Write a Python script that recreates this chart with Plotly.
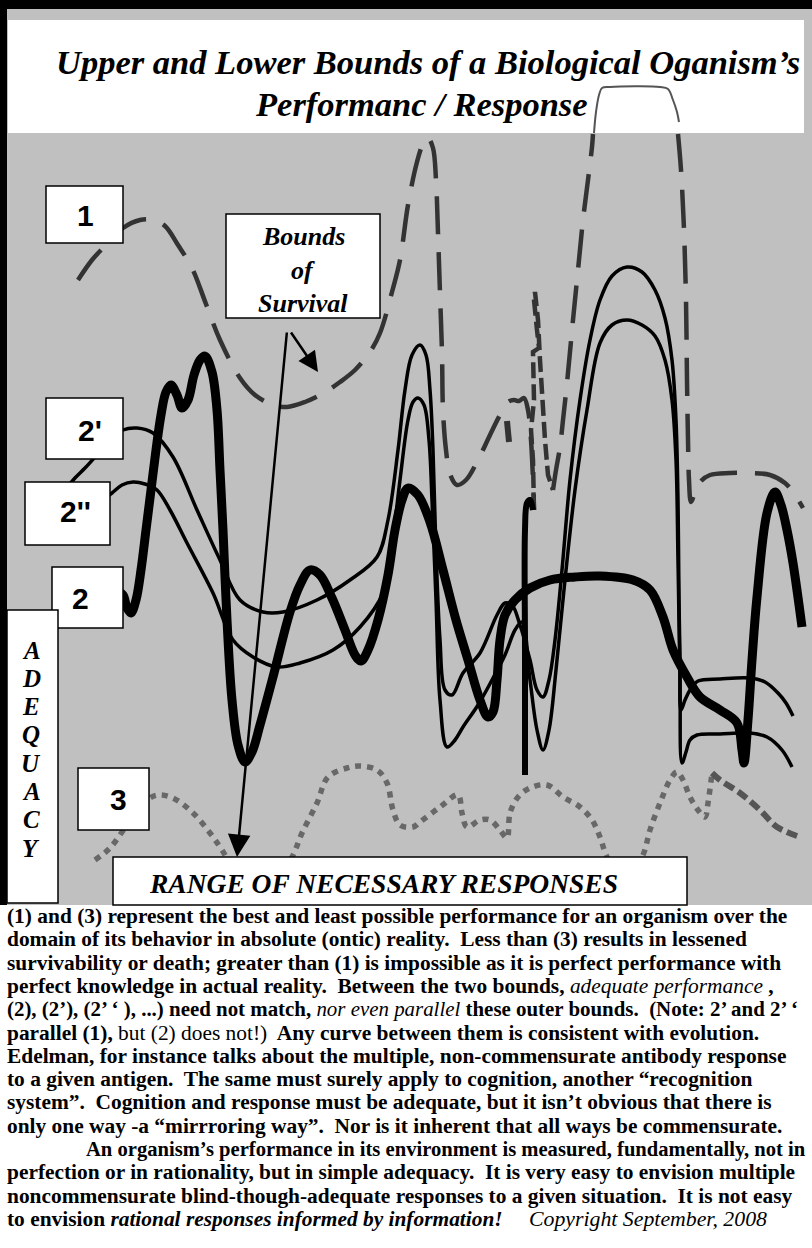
import plotly.graph_objects as go

W, H = 812, 1248

# ---------------- data: curve (1) upper bound (dashed) ----------------
c1a_x = [78, 92, 105, 123, 140, 153, 165, 178, 192, 206, 220, 240, 255, 273, 287, 305, 322, 340, 355, 370,
         380, 392, 400, 408, 417, 423, 428, 433, 436, 438, 440, 442, 443, 446, 450, 457, 466, 478, 490, 500,
         508, 514, 519, 524, 528, 531, 533, 534]
c1a_y = [280, 260, 246, 228, 220, 220, 226, 245, 268, 304, 340, 378, 395, 405, 407, 402, 394, 382, 370, 352,
         333, 292, 260, 205, 162, 144, 138, 148, 180, 233, 293, 353, 410, 450, 474, 485, 480, 460, 435, 415,
         402, 400, 401, 398, 410, 440, 480, 510]
c1b_x = [534, 533, 531, 534, 533, 539, 537, 534, 535, 538, 540, 542, 545, 548, 553]
c1b_y = [510, 460, 430, 400, 352, 348, 330, 300, 292, 320, 360, 400, 440, 475, 490]
c1c_x = [553, 556, 560, 563, 567, 573, 578, 583, 588, 592, 593]
c1c_y = [490, 470, 447, 420, 383, 320, 270, 220, 180, 147, 134]
c1d_x = [678, 681, 684, 686, 687, 688, 689, 691, 695, 700, 710, 730, 750, 770, 785, 795, 803]
c1d_y = [134, 170, 230, 300, 380, 440, 480, 502, 492, 482, 475, 473, 473, 475, 483, 495, 508]
c1_top_x = [594, 596, 599, 602, 610, 660, 668, 673, 677, 679]
c1_top_y = [133, 112, 95, 88, 87, 87, 89, 100, 112, 122]
c1_blob_x = [507, 509]
c1_blob_y = [421, 442]

# ---------------- data: curve (2') thin ----------------
c2p_x = [65, 75, 85, 95, 110, 123, 137, 153, 173, 197, 220, 240, 263, 283, 317, 350, 377, 388, 398, 405,
         412, 420, 426, 430, 433, 436, 440, 445, 452, 463, 480, 497, 505, 512, 520, 530, 537, 543, 549, 555,
         562, 570, 580, 590, 600, 612, 627, 642, 655, 665, 672, 676, 678, 679, 680, 681, 685, 690, 698, 720,
         750, 765, 778, 786, 793]
c2p_y = [490, 478, 468, 457, 440, 430, 428, 433, 457, 510, 560, 600, 612, 612, 600, 580, 557, 520, 450, 390,
         355, 345, 355, 390, 450, 550, 640, 690, 695, 673, 653, 615, 603, 605, 625, 660, 690, 697, 680, 640,
         570, 480, 400, 340, 300, 276, 267, 272, 290, 318, 360, 420, 500, 600, 660, 710, 700, 690, 681, 679,
         678, 682, 693, 703, 716]

# ---------------- data: curve (2'') thin ----------------
c2pp_x = [105, 112, 122, 133, 145, 157, 170, 187, 213, 233, 253, 277, 300, 333, 360, 383, 392, 400, 408, 413,
          418, 424, 429, 432, 436, 440, 447, 455, 463, 478, 492, 505, 515, 522, 530, 537, 543, 549, 556, 565,
          575, 587, 600, 612, 627, 642, 655, 665, 672, 676, 678, 680, 682, 686, 690, 697, 720, 750, 767, 782,
          792]
c2pp_y = [498, 493, 485, 482, 484, 490, 510, 543, 593, 640, 657, 667, 663, 650, 627, 593, 545, 480, 420, 402,
          398, 405, 440, 500, 600, 700, 747, 740, 727, 705, 680, 655, 630, 622, 680, 730, 750, 730, 670, 580,
          490, 410, 343, 325, 320, 325, 336, 360, 400, 460, 560, 680, 763, 752, 740, 735, 734, 733, 737, 750,
          767]

# ---------------- data: curve (2) thick ----------------
c2_x = [115, 123, 127, 131, 136, 141, 146, 151, 156, 161, 166, 171, 177, 182, 188, 194, 200, 205, 212, 217,
        220, 223, 227, 232, 238, 245, 252, 260, 273, 290, 300, 310, 320, 332, 345, 355, 361, 368, 378, 388,
        395, 402, 408, 418, 430, 443, 456, 468, 480, 488, 493, 497, 500, 505, 515, 530, 550, 575, 600, 633,
        650, 663, 673, 687, 700, 720, 737, 742, 744, 748, 752, 757, 767, 775, 781, 787, 793, 802]
c2_y = [590, 595, 608, 613, 600, 570, 530, 490, 450, 415, 392, 385, 395, 408, 400, 375, 360, 356, 372, 410,
        470, 530, 620, 700, 745, 762, 752, 725, 677, 612, 585, 570, 575, 598, 630, 655, 661, 650, 620, 575,
        530, 500, 488, 495, 522, 570, 620, 660, 700, 717, 712, 680, 640, 615, 600, 588, 580, 577, 576, 580,
        590, 617, 650, 677, 697, 710, 723, 750, 763, 720, 660, 597, 513, 492, 505, 530, 563, 627]
spike_x = [525, 525, 525, 527, 530, 533]
spike_y = [775, 650, 530, 503, 500, 510]

# ---------------- data: curve (3) lower bound (dotted) ----------------
c3_x = [95, 110, 127, 147, 158, 173, 193, 210, 222, 240, 257, 275, 292, 302, 317, 328, 347, 360, 377, 387,
        393, 400, 413, 420, 440, 458, 462, 467, 480, 490, 500, 507, 510, 518, 530, 547, 563, 580, 592, 600,
        607, 625, 643, 650, 660, 670, 677, 683, 690, 698, 705, 708, 712]
c3_y = [860, 848, 825, 800, 795, 798, 813, 833, 850, 880, 895, 880, 857, 833, 803, 777, 768, 766, 770, 783,
        810, 825, 827, 822, 807, 795, 813, 827, 820, 820, 830, 838, 813, 797, 788, 785, 797, 807, 820, 837,
        857, 885, 855, 830, 803, 780, 772, 780, 797, 810, 817, 803, 773]
c3_tail_x = [712, 720, 740, 760, 777, 800]
c3_tail_y = [773, 780, 793, 810, 827, 837]

# ---------------- text ----------------
title_lines = ["Upper and Lower Bounds of a Biological Oganism\u2019s", "Performanc / Response"]
survival_lines = ["Bounds", "of", "Survival"]
labels = ["1", "2'", "2''", "2", "3"]
axis_word = "ADEQUACY"
range_text = "RANGE OF NECESSARY RESPONSES"
S = "\u00a0"
para_lines = [
    "<b>(1) and (3) represent the best and least possible performance for an organism over the</b>",
    "<b>domain of its behavior in absolute (ontic) reality." + S + " Less than (3) results in lessened</b>",
    "<b>survivability or death; greater than (1) is impossible as it is perfect performance with</b>",
    "<b>perfect knowledge in actual reality." + S + " Between the two bounds, </b><i>adequate performance</i><b> ,</b>",
    "<b>(2), (2\u2019), (2\u2019 \u2018 ), ...) need not match, </b><i>nor even parallel</i><b> these outer bounds." + S + " (Note: 2\u2019 and 2\u2019 \u2018</b>",
    "<b>parallel (1), </b>but (2) does not!)<b>" + S + " Any curve between them is consistent with evolution.</b>",
    "<b>Edelman, for instance talks about the multiple, non-commensurate antibody response</b>",
    "<b>to a given antigen." + S + " The same must surely apply to cognition, another \u201crecognition</b>",
    "<b>system\u201d." + S + " Cognition and response must be adequate, but it isn\u2019t obvious that there is</b>",
    "<b>only one way -a \u201cmirrroring way\u201d." + S + " Nor is it inherent that all ways be commensurate.</b>",
    "<b>An organism\u2019s performance in its environment is measured, fundamentally, not in</b>",
    "<b>perfection or in rationality, but in simple adequacy." + S + " It is very easy to envision multiple</b>",
    "<b>noncommensurate blind-though-adequate responses to a given situation." + S + " It is not easy</b>",
    "<b>to envision </b><b><i>rational responses informed by information!</i></b>",
]
copyright_text = "Copyright September, 2008"

SERIF = "Liberation Serif, Times New Roman, serif"
SANS = "Liberation Sans, Arial, sans-serif"

fig = go.Figure()

def add_line(x, y, color, width, dash="solid", shape="spline", smoothing=1.0):
    fig.add_trace(go.Scatter(x=x, y=y, mode="lines", hoverinfo="skip", showlegend=False,
                             line=dict(color=color, width=width, dash=dash, shape=shape,
                                       smoothing=smoothing if shape == "spline" else None)))

DASH = "38px,18px"
GR = "#333333"
add_line(c1a_x, c1a_y, GR, 4.5, DASH)
add_line(c1b_x, c1b_y, GR, 4.5, "16px,6px", shape="linear")
add_line(c1c_x, c1c_y, GR, 4.5, DASH)
add_line(c1d_x, c1d_y, GR, 4.5, DASH)
add_line(c1_blob_x, c1_blob_y, GR, 6, "solid", shape="linear")
add_line(c1_top_x, c1_top_y, "#555555", 2, "solid")

add_line(c3_x, c3_y, "#686868", 5.5, "6px,6px")
add_line(c3_tail_x, c3_tail_y, "#555555", 6, "11px,5px")

add_line(c2p_x, c2p_y, "black", 3.5)
add_line(c2pp_x, c2pp_y, "black", 3.5)
add_line(spike_x, spike_y, "black", 6)
add_line(c2_x, c2_y, "black", 9)

shapes = [
    dict(type="rect", x0=7, y0=8, x1=812, y1=905, fillcolor="#c0c0c0", line_width=0, layer="below"),
    dict(type="rect", x0=8, y0=20, x1=804, y1=133, fillcolor="white", line_width=0, layer="below"),
    dict(type="rect", x0=0, y0=0, x1=812, y1=9, fillcolor="black", line_width=0, layer="above"),
    dict(type="rect", x0=0, y0=0, x1=7, y1=905, fillcolor="black", line_width=0, layer="above"),
]
boxes = [
    (226, 214, 380, 318),   # bounds of survival
    (46, 186, 123, 243),    # 1
    (46, 398, 123, 459),    # 2'
    (25, 482, 110, 545),    # 2''
    (52, 567, 123, 628),    # 2
    (7, 610, 58, 903),      # adequacy
    (78, 768, 149, 830),    # 3
    (113, 857, 687, 905),   # range
]
for x0, y0, x1, y1 in boxes:
    shapes.append(dict(type="rect", x0=x0, y0=y0, x1=x1, y1=y1, fillcolor="white",
                       line=dict(color="black", width=1.5), layer="above"))

ann = []
def txt(x, y, s, size, family=SERIF, xanchor="center", color="black"):
    ann.append(dict(x=x, y=y, text=s, showarrow=False, xanchor=xanchor, yanchor="middle",
                    font=dict(family=family, size=size, color=color)))

txt(428, 62, "<b><i>" + title_lines[0] + "</i></b>", 34.5)
txt(421, 104, "<b><i>" + title_lines[1] + "</i></b>", 34.5)
for s, yy in zip(survival_lines, [236, 270, 303]):
    txt(303, yy, "<b><i>" + s + "</i></b>", 26)
for s, (xx, yy) in zip(labels, [(85, 215), (90, 430), (75, 511), (80, 598), (118, 799)]):
    txt(xx, yy, "<b>" + s + "</b>", 30, family=SANS)
for i, ch in enumerate(axis_word):
    txt(31, 650 + i * 28.3, "<b><i>" + ch + "</i></b>", 25)
txt(383, 883, "<b><i>" + range_text + "</i></b>", 27.5)

para_x = [5] * 14
para_x[10] = 84
para_size = [21.4] * 14
para_size[4] = 20.9
para_size[10] = 20.6
for i, s in enumerate(para_lines):
    txt(para_x[i], 916 + i * 23.3, s, para_size[i], xanchor="left")
txt(527, 916 + 13 * 23.3, "<i>" + copyright_text + "</i>", 21.8, xanchor="left")

# arrows from the survival box
ann.append(dict(x=237, y=857, ax=287, ay=331, axref="x", ayref="y", xref="x", yref="y",
                text="", showarrow=True, arrowhead=2, arrowsize=1.8, arrowwidth=2.5, arrowcolor="black"))
ann.append(dict(x=318, y=372, ax=290, ay=331, axref="x", ayref="y", xref="x", yref="y",
                text="", showarrow=True, arrowhead=2, arrowsize=1.6, arrowwidth=2.5, arrowcolor="black"))

fig.update_layout(
    width=W, height=H, autosize=False,
    margin=dict(l=0, r=0, t=0, b=0, pad=0),
    paper_bgcolor="white", plot_bgcolor="white",
    xaxis=dict(range=[0, W], visible=False, fixedrange=True),
    yaxis=dict(range=[H, 0], visible=False, fixedrange=True),
    shapes=shapes, annotations=ann,
)

fig.write_html("out.html", config={"displayModeBar": False, "staticPlot": True},
               post_script="document.body.style.margin='0';")
